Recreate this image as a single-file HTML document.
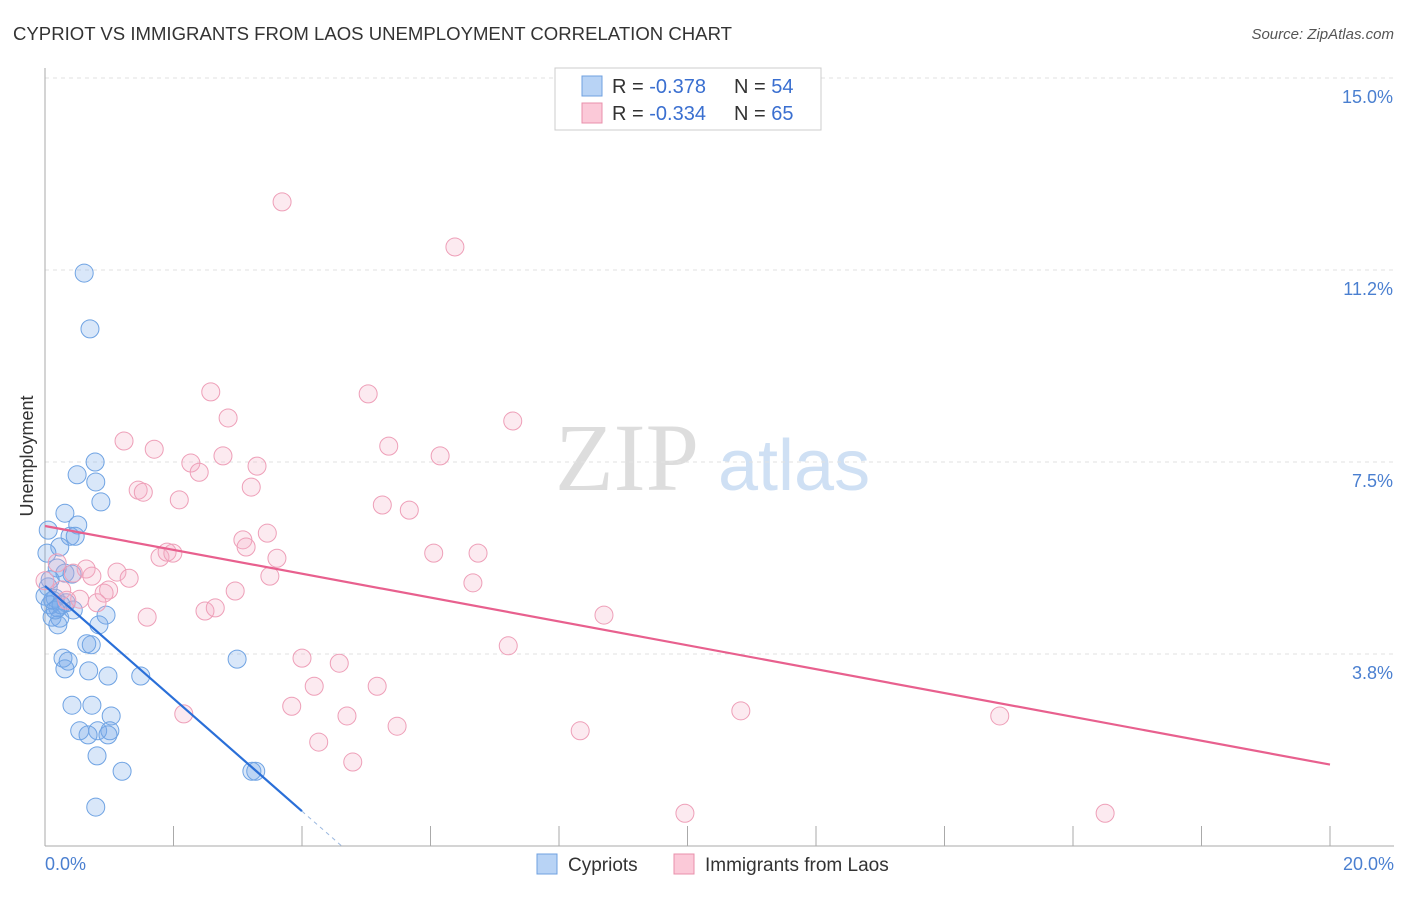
<!DOCTYPE html>
<html><head><meta charset="utf-8"><style>
body{margin:0;background:#fff;font-family:"Liberation Sans",sans-serif}
</style></head><body>
<svg width="1406" height="892" viewBox="0 0 1406 892" xmlns="http://www.w3.org/2000/svg" font-family="Liberation Sans, sans-serif">
<text x="13" y="40" font-size="18" fill="#333" textLength="719" lengthAdjust="spacingAndGlyphs">CYPRIOT VS IMMIGRANTS FROM LAOS UNEMPLOYMENT CORRELATION CHART</text>
<text x="1394" y="39" font-size="15" fill="#555" text-anchor="end" font-style="italic">Source: ZipAtlas.com</text>
<text x="555" y="490" font-size="96" fill="#ddd" font-family="Liberation Serif, serif">ZIP</text>
<text x="718" y="490" font-size="72" fill="#cfe0f4">atlas</text>
<g id="grid"></g>
<line x1="45" y1="68" x2="45" y2="846" stroke="#aaa"/>
<line x1="45" y1="846" x2="1394" y2="846" stroke="#aaa"/>
<g id="pts"></g>
<text transform="translate(33,456) rotate(-90)" font-size="18" fill="#333" text-anchor="middle">Unemployment</text>
<text x="45" y="870" font-size="18" fill="#4a7fd0">0.0%</text>
<text x="1394" y="870" font-size="18" fill="#4a7fd0" text-anchor="end">20.0%</text>
<g>
<rect x="555" y="68" width="266" height="62" fill="#fff" stroke="#ccc"/>
<rect x="582" y="76" width="20" height="20" fill="#b8d3f5" stroke="#6fa0e0"/>
<rect x="582" y="103" width="20" height="20" fill="#fbc9d8" stroke="#e890ab"/>
<text x="612" y="93" font-size="20" fill="#333">R = <tspan fill="#3a6fd0">-0.378</tspan></text>
<text x="734" y="93" font-size="20" fill="#333">N = <tspan fill="#3a6fd0">54</tspan></text>
<text x="612" y="120" font-size="20" fill="#333">R = <tspan fill="#3a6fd0">-0.334</tspan></text>
<text x="734" y="120" font-size="20" fill="#333">N = <tspan fill="#3a6fd0">65</tspan></text>
</g>
<g>
<rect x="537" y="854" width="20" height="20" fill="#b8d3f5" stroke="#6fa0e0"/>
<text x="568" y="871" font-size="19" fill="#333">Cypriots</text>
<rect x="674" y="854" width="20" height="20" fill="#fbc9d8" stroke="#e890ab"/>
<text x="705" y="871" font-size="19" fill="#333">Immigrants from Laos</text>
</g>
</svg>
<script>
const yTicks=[3.75,7.5,11.25,15];
const yTickLabels=["3.8%","7.5%","11.2%","15.0%"];
const blueX=[0.61,0.70,0.78,0.50,0.79,0.87,0.31,0.51,0.39,0.47,0.05,0.23,0.03,0.19,0.05,0.31,0.42,0.16,0.33,0.08,0.20,0.44,0.11,0.23,0.20,0.95,0.84,0.65,0.72,0.28,0.36,0.31,0.68,0.98,1.49,2.99,0.42,0.73,1.03,0.54,0.82,0.67,1.01,0.98,0.81,1.20,3.22,3.28,0.79,0.08,0.12,0.25,0.0,0.16];
const blueY=[11.19,10.10,7.50,7.25,7.11,6.72,6.50,6.27,6.05,6.05,6.17,5.84,5.72,5.43,5.06,5.33,5.31,4.84,4.75,4.71,4.65,4.61,4.47,4.45,4.32,4.51,4.32,3.95,3.93,3.67,3.61,3.46,3.42,3.32,3.32,3.65,2.75,2.75,2.54,2.25,2.25,2.17,2.25,2.17,1.76,1.46,1.46,1.46,0.76,5.20,4.80,4.71,4.88,4.61];
const pinkX=[3.69,6.38,2.58,5.03,2.85,7.28,1.23,1.70,5.35,2.27,2.77,6.15,2.40,3.30,3.21,1.45,1.53,2.09,5.25,5.67,3.08,3.46,3.13,6.05,6.74,1.79,1.90,1.99,3.61,0.19,0.64,1.12,0.73,0.44,1.31,3.50,6.66,0.99,0.92,2.96,0.0,0.26,0.34,0.81,0.54,1.59,2.49,2.65,8.70,4.00,4.58,7.21,4.19,5.17,3.84,2.16,4.70,10.83,14.86,5.48,8.33,4.26,4.79,9.96,16.50];
const pinkY=[12.58,11.70,8.87,8.83,8.36,8.30,7.91,7.75,7.81,7.48,7.62,7.62,7.30,7.42,7.01,6.95,6.91,6.76,6.66,6.56,5.98,6.11,5.84,5.72,5.72,5.64,5.74,5.72,5.62,5.53,5.41,5.35,5.27,5.33,5.23,5.27,5.14,5.00,4.94,4.98,5.18,5.00,4.80,4.75,4.82,4.47,4.59,4.65,4.51,3.67,3.57,3.91,3.12,3.12,2.73,2.58,2.54,2.64,2.54,2.34,2.25,2.03,1.64,0.64,0.64];
const blueFit=[5.08,-1.10]; // intercept, slope per %
const pinkFit=[6.25,-0.233];
const X0=45,X1=1330,YB=846,PXY=51.2;
const sx=v=>X0+v*(X1-X0)/20, sy=v=>YB-v*PXY;
const NS='http://www.w3.org/2000/svg';
function mk(t,a,p){const e=document.createElementNS(NS,t);for(const k in a)e.setAttribute(k,a[k]);p.appendChild(e);return e;}
const grid=document.getElementById('grid');
yTicks.forEach((t,i)=>{
 const l=mk('line',{x1:45,x2:1394,y1:sy(t),y2:sy(t),stroke:'#e2e2e2','stroke-dasharray':'4,4'},grid);
 
 
 const tx=mk('text',{x:1393,y:sy(t)+25,'font-size':18,fill:'#4a7fd0','text-anchor':'end'},grid);
 tx.textContent=yTickLabels[i];
 
 
});
mk('line',{x1:45,x2:1394,y1:78,y2:78,stroke:'#e2e2e2','stroke-dasharray':'4,4'},grid);
for(let i=1;i<=10;i++){const l=mk('line',{x1:sx(i*2),x2:sx(i*2),y1:826,y2:846,stroke:'#aaa'},grid);
 
 }
const pts=document.getElementById('pts');
blueX.forEach((x,i)=>{const c=mk('circle',{cx:sx(x),cy:sy(blueY[i]),r:9,fill:'rgba(120,170,235,0.28)',stroke:'#6fa3e3','stroke-width':1},pts);
 
 });
pinkX.forEach((x,i)=>{const c=mk('circle',{cx:sx(x),cy:sy(pinkY[i]),r:9,fill:'rgba(245,170,195,0.25)',stroke:'#ee9fb8','stroke-width':1},pts);
 
 });
let l=mk('line',{x1:sx(0),y1:sy(pinkFit[0]),x2:sx(20),y2:sy(pinkFit[0]+pinkFit[1]*20),stroke:'#e8608e','stroke-width':2.2},pts);


l=mk('line',{x1:sx(0),y1:sy(blueFit[0]),x2:sx(4),y2:sy(blueFit[0]+blueFit[1]*4),stroke:'#2a6fd8','stroke-width':2.2},pts);


l=mk('line',{x1:sx(4),y1:sy(blueFit[0]+blueFit[1]*4),x2:sx(4.62),y2:sy(blueFit[0]+blueFit[1]*4.62),stroke:'#9bb8e0','stroke-width':1,'stroke-dasharray':'4,4'},pts);


</script>
</body></html>
